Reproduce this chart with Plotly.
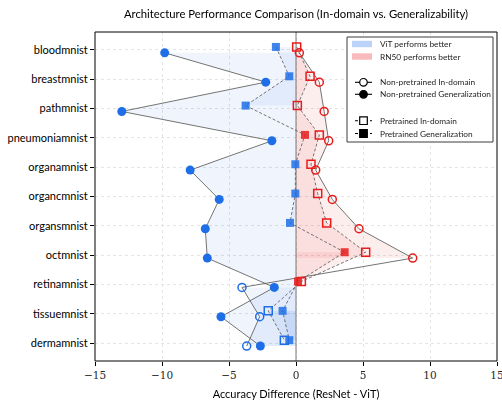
import plotly.graph_objects as go
import numpy as np

# ---------------- data ----------------
datasets = ["bloodmnist", "breastmnist", "pathmnist", "pneumoniamnist", "organamnist",
            "organcmnist", "organsmnist", "octmnist", "retinamnist", "tissuemnist", "dermamnist"]
np_indomain = [0.25, 1.74, 2.1, 2.44, 1.47, 2.71, 4.7, 8.71, -4.03, -2.71, -3.68]
np_general = [-9.8, -2.26, -13.0, -1.8, -7.9, -5.73, -6.77, -6.62, -1.62, -5.6, -2.66]
p_indomain = [0.05, 1.05, 0.1, 1.74, 1.12, 1.62, 2.29, 5.2, 0.4, -2.07, -0.87]
p_general = [-1.5, -0.5, -3.76, 0.67, -0.05, -0.05, -0.45, 3.63, 0.15, -1.0, -0.5]
x_ticks = [-15, -10, -5, 0, 5, 10, 15]

# ---------------- style ----------------
W, H = 502, 403
ML, MR, MT, MB = 95, 5, 32, 42
BLUE = "rgb(30,110,232)"
RED = "rgb(232,28,28)"
BLUE_FILL = "rgba(30,110,232,0.065)"
RED_FILL = "rgba(232,28,28,0.075)"
LINE_C = "rgb(100,100,100)"
SANS = "Lato, 'Open Sans', sans-serif"
SERIF = "'DejaVu Serif', serif"

n = len(datasets)
idx = np.arange(n)
y_np = idx + 0.1   # non-pretrained slightly below
y_p = idx - 0.1    # pretrained slightly above

fig = go.Figure()


def add_fills(xv, yv):
    xv = np.asarray(xv, dtype=float)
    for mask, col in ((xv < 0, BLUE_FILL), (xv > 0, RED_FILL)):
        i = 0
        while i < len(xv):
            if mask[i]:
                j = i
                while j + 1 < len(xv) and mask[j + 1]:
                    j += 1
                if j > i:
                    ys = [float(v) for v in yv[i:j + 1]]
                    xs = [float(v) for v in xv[i:j + 1]]
                    fx = [0.0] * len(ys) + xs[::-1]
                    fy = ys + ys[::-1]
                    fig.add_trace(go.Scatter(x=fx, y=fy, mode="lines", fill="toself",
                                             fillcolor=col, line=dict(width=0),
                                             hoverinfo="skip", showlegend=False))
                i = j + 1
            else:
                i += 1


for xv, yv in ((np_general, y_np), (np_indomain, y_np), (p_general, y_p), (p_indomain, y_p)):
    add_fills(xv, yv)

# zero reference line (drawn as a trace so it sits above grid, below markers)
fig.add_trace(go.Scatter(x=[0, 0], y=[10.61, -0.61], mode="lines",
                         line=dict(color="rgb(120,120,120)", width=1),
                         hoverinfo="skip", showlegend=False))

# connecting lines
for xv, yv, dash in ((np_indomain, y_np, "solid"), (np_general, y_np, "solid"),
                     (p_indomain, y_p, "3px,2px"), (p_general, y_p, "3px,2px")):
    fig.add_trace(go.Scatter(x=xv, y=yv, mode="lines",
                             line=dict(color=LINE_C, width=0.9, dash=dash),
                             hoverinfo="skip", showlegend=False))


def cols(xv):
    return [BLUE if v < 0 else RED for v in xv]


# markers
fig.add_trace(go.Scatter(x=np_general, y=y_np, mode="markers", showlegend=False,
                         marker=dict(symbol="circle", size=9, color=cols(np_general),
                                     line=dict(width=0))))
fig.add_trace(go.Scatter(x=np_indomain, y=y_np, mode="markers", showlegend=False,
                         marker=dict(symbol="circle-open", size=8, color=cols(np_indomain),
                                     line=dict(width=1.5))))
fig.add_trace(go.Scatter(x=p_general, y=y_p, mode="markers", showlegend=False, opacity=0.85,
                         marker=dict(symbol="square", size=8, color=cols(p_general),
                                     line=dict(width=0))))
fig.add_trace(go.Scatter(x=p_indomain, y=y_p, mode="markers", showlegend=False,
                         marker=dict(symbol="square-open", size=8, color=cols(p_indomain),
                                     line=dict(width=1.5))))

PW = W - ML - MR
PH = H - MT - MB


def px(X):
    return (X - ML) / PW


def py(Y):
    return (H - MB - Y) / PH


shapes = []
annots = []
# frame
shapes.append(dict(type="rect", xref="paper", yref="paper", x0=0, x1=1, y0=0, y1=1,
                   line=dict(color="black", width=1), fillcolor="rgba(0,0,0,0)"))

# ---------------- manual legend ----------------
bx0, bx1, by0, by1 = 347, 493, 37, 142
shapes.append(dict(type="rect", xref="paper", yref="paper",
                   x0=px(bx0), x1=px(bx1), y0=py(by1), y1=py(by0),
                   fillcolor="rgba(255,255,255,0.9)", line=dict(color="rgb(60,60,60)", width=1)))

items = [
    ("patch", "rgba(30,110,232,0.3)", "ViT performs better", 44),
    ("patch", "rgba(232,28,28,0.3)", "RN50 performs better", 56.5),
    ("circle-open", "solid", "Non-pretrained In-domain", 82.3),
    ("circle", "solid", "Non-pretrained Generalization", 94.3),
    ("square-open", "dash", "Pretrained In-domain", 120.7),
    ("square", "dash", "Pretrained Generalization", 133.5),
]
for kind, style, label, Y in items:
    if kind == "patch":
        shapes.append(dict(type="rect", xref="paper", yref="paper",
                           x0=px(352), x1=px(372), y0=py(Y + 3.2), y1=py(Y - 3.2),
                           fillcolor=style, line=dict(width=0)))
    else:
        shapes.append(dict(type="line", xref="paper", yref="paper",
                           x0=px(355), x1=px(372), y0=py(Y), y1=py(Y),
                           line=dict(color="black", width=1.1,
                                     dash="solid" if style == "solid" else "3px,2px")))
        filled = not kind.endswith("open")
        shp = "circle" if kind.startswith("circle") else "rect"
        s = 3.8
        shapes.append(dict(type=shp, xref="paper", yref="paper",
                           xsizemode="pixel", ysizemode="pixel",
                           xanchor=px(363.5), yanchor=py(Y),
                           x0=-s, x1=s, y0=-s, y1=s,
                           fillcolor="black" if filled else "white",
                           line=dict(color="black", width=1.2)))
    annots.append(dict(x=px(378), y=py(Y), xref="paper", yref="paper", text=label,
                       showarrow=False, xanchor="left", yanchor="middle",
                       font=dict(family=SANS, size=8.3, color="rgb(30,30,30)")))

fig.update_layout(
    width=W, height=H,
    margin=dict(l=ML, r=MR, t=MT, b=MB, autoexpand=False),
    plot_bgcolor="white", paper_bgcolor="white",
    title=dict(text="Architecture Performance Comparison (In-domain vs. Generalizability)",
               x=(ML + PW / 2) / W, xanchor="center", y=1 - 14 / H, yanchor="middle",
               font=dict(family=SANS, size=11.3, color="black")),
    xaxis=dict(range=[-15, 15], tickvals=x_ticks, ticks="outside", ticklen=4,
               tickcolor="black", showline=False, showgrid=True,
               gridcolor="rgb(228,228,228)", griddash="3px,3px",
               gridwidth=0.8, zeroline=False, ticklabeloverflow="allow", automargin=False,
               tickfont=dict(family=SERIF, size=10.5, color="rgb(40,40,40)"),
               title=dict(text="Accuracy Difference (ResNet - ViT)", standoff=10,
                          font=dict(family=SANS, size=11, color="black"))),
    yaxis=dict(range=[10.61, -0.61], tickvals=[int(i) for i in idx], ticktext=datasets,
               ticks="outside", ticklen=4, tickcolor="black", showline=False,
               showgrid=True, gridcolor="rgb(228,228,228)", automargin=False,
               griddash="3px,3px", gridwidth=0.8, zeroline=False,
               tickfont=dict(family=SANS, size=11, color="black")),
    shapes=shapes,
    annotations=annots,
    showlegend=False,
)

fig.write_html("out.html")
